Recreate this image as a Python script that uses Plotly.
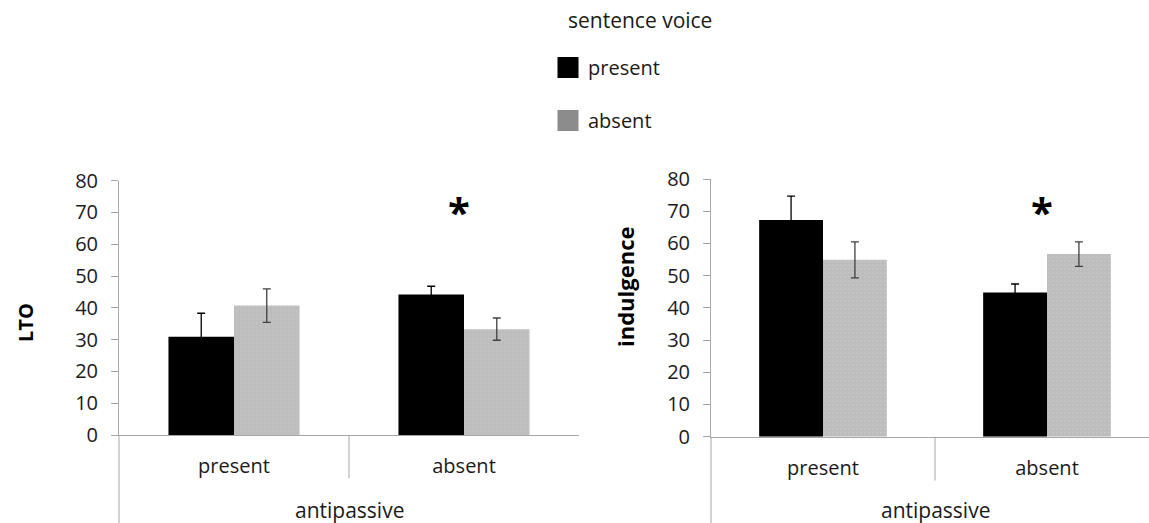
import plotly.graph_objects as go

categories = ["present", "absent"]
group_label = "antipassive"
series_names = ["present", "absent"]
legend_title = "sentence voice"

lto_present = [30.9, 44.2]
lto_absent = [40.7, 33.3]
lto_err_present = [7.4, 2.6]
lto_err_absent = [5.3, 3.5]

ind_present = [67.3, 44.8]
ind_absent = [54.9, 56.7]
ind_err_present = [7.4, 2.6]
ind_err_absent = [5.6, 3.8]

star_y = [70.3, 69.8]
y_ticks = [0, 10, 20, 30, 40, 50, 60, 70, 80]

FONT = "Open Sans"
BLACK = "#000000"
GRAY = "#bdbdbd"
AX = "#a6a6a6"
TXT = "#1a1a1a"

fig = go.Figure()

def add_bars(xa, ya, vp, va, ep, ea):
    fig.add_trace(go.Bar(
        x=categories, y=vp, name=series_names[0], xaxis=xa, yaxis=ya,
        marker=dict(color=BLACK, line=dict(width=0)), showlegend=False,
        error_y=dict(type="data", array=ep, color="#000000", thickness=1.3, width=4)))
    fig.add_trace(go.Bar(
        x=categories, y=va, name=series_names[1], xaxis=xa, yaxis=ya,
        marker=dict(color=GRAY, line=dict(width=0),
                    pattern=dict(shape=".", bgcolor=GRAY, fgcolor="#cecece", size=4, solidity=0.2)),
        showlegend=False,
        error_y=dict(type="data", array=ea, color="#404040", thickness=1.3, width=4)))

add_bars("x", "y", lto_present, lto_absent, lto_err_present, lto_err_absent)
add_bars("x2", "y2", ind_present, ind_absent, ind_err_present, ind_err_absent)

# legend-only traces (larger swatches)
fig.add_trace(go.Scatter(x=[None], y=[None], mode="markers", name=series_names[0],
                         marker=dict(symbol="square", size=16, color=BLACK, line=dict(color=BLACK, width=5)),
                         legendgroup="a"))
fig.add_trace(go.Scatter(x=[None], y=[None], mode="markers", name=series_names[1],
                         marker=dict(symbol="square", size=16, color="#8c8c8c", line=dict(color="#8c8c8c", width=5)),
                         legendgroup="b"))

W, H = 1149, 523
L_dom = [119 / W, 579 / W]
R_dom = [711 / W, 1.0]
L_y = [1 - 435 / H, 1 - 180.7 / H]
R_y = [1 - 436.7 / H, 1 - 179 / H]

xcommon = dict(type="category", showline=True, linecolor=AX, linewidth=1, ticks="",
               showgrid=False, zeroline=False, tickfont=dict(family=FONT, size=20, color=TXT),
               ticklabelstandoff=13, fixedrange=True, automargin=False)
ycommon = dict(range=[0, 80], tickvals=y_ticks, showline=True, linecolor=AX, linewidth=1,
               ticks="outside", ticklen=7, tickcolor=AX, showgrid=False, zeroline=False,
               tickfont=dict(family=FONT, size=20, color=TXT), ticklabelstandoff=9,
               automargin=False, fixedrange=True)

fig.update_layout(
    width=W, height=H, margin=dict(l=0, r=0, t=0, b=0, autoexpand=False),
    paper_bgcolor="white", plot_bgcolor="white",
    barmode="group", bargap=0.43, bargroupgap=0,
    xaxis=dict(domain=L_dom, range=[-0.5, 1.5], **xcommon),
    yaxis=dict(domain=L_y, anchor="x", **ycommon),
    xaxis2=dict(domain=R_dom, range=[-0.5, -0.5 + (W - 711) / 224], anchor="y2", **xcommon),
    yaxis2=dict(domain=R_y, anchor="x2", **ycommon),
    legend=dict(x=548 / W, y=1 - 48 / H, xanchor="left", yanchor="top",
                font=dict(family=FONT, size=20, color=TXT), tracegroupgap=24,
                borderwidth=0, bgcolor="rgba(0,0,0,0)", itemclick=False),
    showlegend=True,
)

fig.add_annotation(x=640 / W, y=1 - 20 / H, xref="paper", yref="paper", text=legend_title,
                   xanchor="center", yanchor="middle", showarrow=False,
                   font=dict(family=FONT, size=21, color=TXT))

# star annotations
for xr, yr, yv in (("x", "y", star_y[0]), ("x2", "y2", star_y[1])):
    fig.add_annotation(x=categories[1], y=yv, xref=xr, yref=yr, xanchor="center", yanchor="middle",
                       text="<b>*</b>", showarrow=False, xshift=-5,
                       font=dict(family=FONT, size=40, color="black"))

# y-axis titles
fig.add_annotation(x=25 / W, y=1 - 323 / H, xref="paper", yref="paper", text="<b>LTO</b>",
                   xanchor="center", yanchor="middle",
                   textangle=-90, showarrow=False, font=dict(family=FONT, size=20, color="black"))
fig.add_annotation(x=625 / W, y=1 - 287 / H, xref="paper", yref="paper", text="<b>indulgence</b>",
                   xanchor="center", yanchor="middle",
                   textangle=-90, showarrow=False, font=dict(family=FONT, size=22, color="black"))

# group labels
fig.add_annotation(x=(L_dom[0] + L_dom[1]) / 2, y=1 - 510 / H, xref="paper", yref="paper",
                   xanchor="center", yanchor="middle",
                   text=group_label, showarrow=False, font=dict(family=FONT, size=21, color=TXT))
fig.add_annotation(x=935 / W, y=1 - 510 / H, xref="paper", yref="paper",
                   xanchor="center", yanchor="middle",
                   text=group_label, showarrow=False, font=dict(family=FONT, size=21, color=TXT))

# extended axis lines and category dividers
for xd, yd, xr in (("x domain", "y domain", "x"), ("x2 domain", "y2 domain", "x2")):
    fig.add_shape(type="line", xref=xd, yref=yd, x0=0, x1=0, y0=0, y1=-0.35,
                  line=dict(color=AX, width=1))
    fig.add_shape(type="line", xref=xr, yref=yd, x0=0.5, x1=0.5, y0=0, y1=-0.17,
                  line=dict(color=AX, width=1))

fig.write_html("out.html", post_script="document.body.style.margin='0';",
               config={"displayModeBar": False})
